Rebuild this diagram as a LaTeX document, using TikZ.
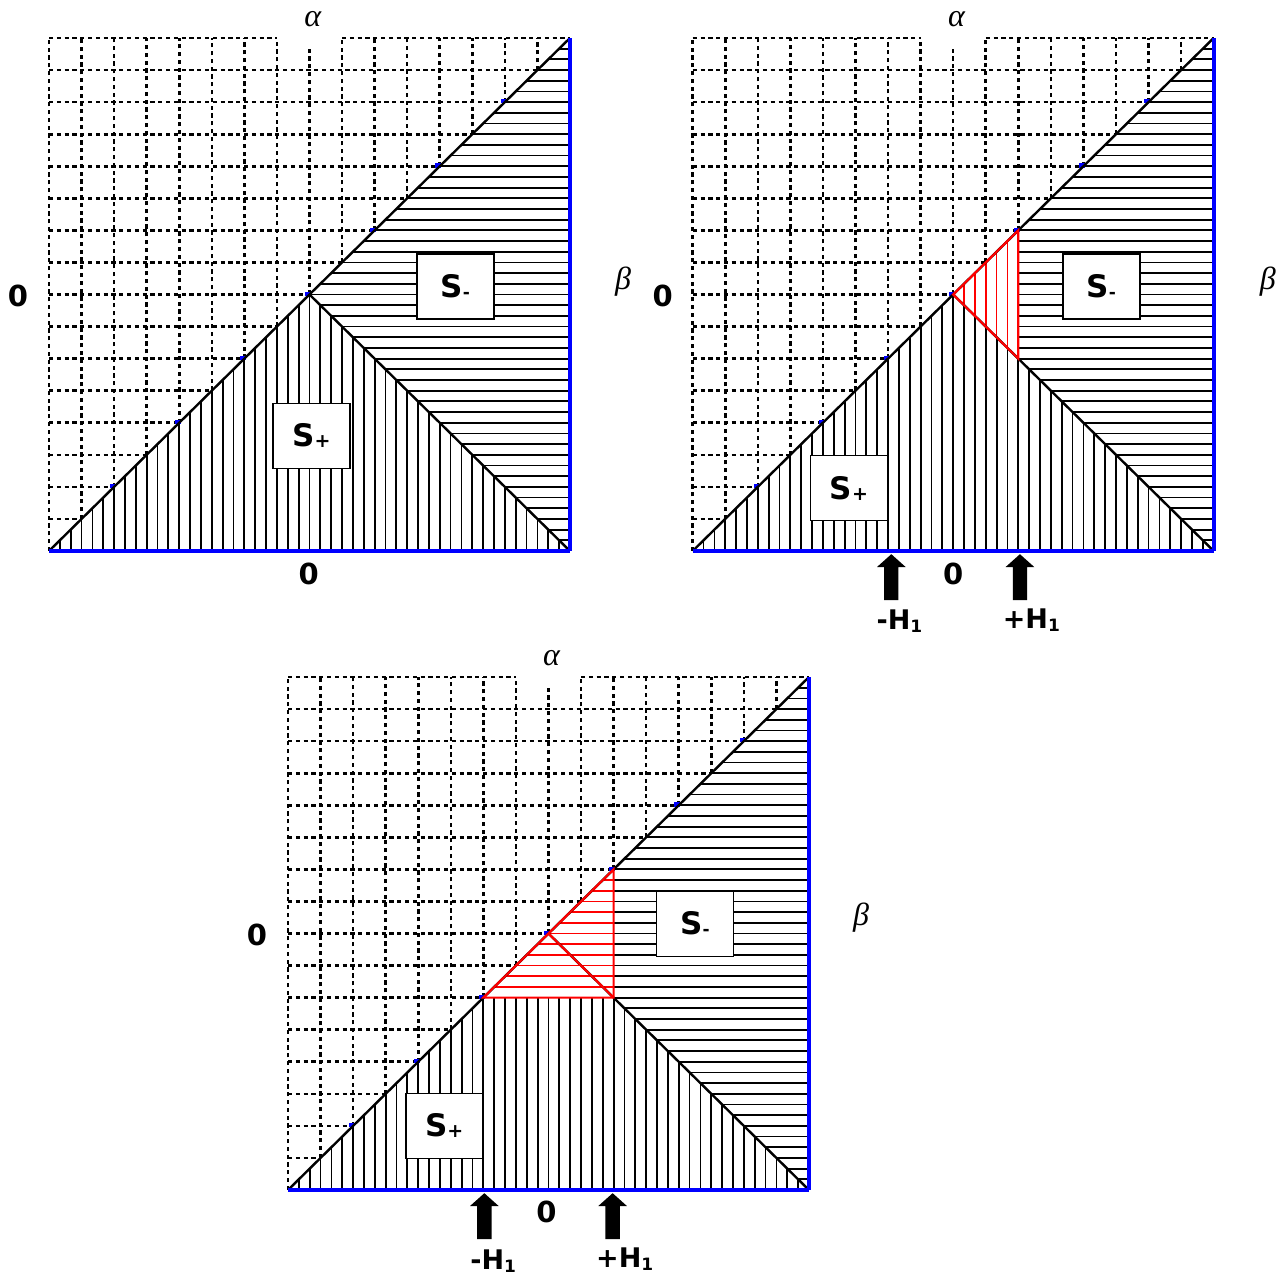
\documentclass[tikz,border=0pt]{standalone}
\usepackage{fontspec}
\setmainfont{DejaVu Sans}
\newfontfamily\serifgreek{Liberation Serif}
\definecolor{pblue}{RGB}{0,0,255}
\definecolor{pred}{RGB}{255,0,0}
\tikzset{
 gridline/.style={line width=2.6pt, dash pattern=on 4.2pt off 3.6pt},
 hatchline/.style={line width=1.8pt, black},
 redhatch/.style={line width=1.6pt, pred},
 axisline/.style={line width=4.2pt, pblue},
 diagline/.style={line width=2.4pt, black},
 redline/.style={line width=2.2pt, pred},
 sbox/.style={draw, fill=white, line width=1.6pt, minimum width=77pt, minimum height=65pt, font=\fontsize{31}{31}\selectfont\bfseries, inner sep=0pt},
 lbl/.style={font=\fontsize{29}{29}\selectfont\bfseries, inner sep=0pt},
 greek/.style={font=\fontsize{32}{32}\selectfont\serifgreek\itshape, inner sep=0pt},
 hlbl/.style={font=\fontsize{27}{27}\selectfont\bfseries, inner sep=0pt},
 blockarrow/.style={fill=black},
 panelscale/.style={x=32.56pt, y=32.06pt},
}
\newcommand\vhatch[1]{\foreach \i in {1,...,47} \draw[#1] ({\i/3},0) -- ({\i/3},16);}
\newcommand\hhatch[1]{\foreach \i in {1,...,47} \draw[#1] (0,{\i/3}) -- (16,{\i/3});}
\newcommand\mygrid{%
 \foreach \j in {1,...,15} \draw[gridline] (0,\j) -- (\j,\j);
 \foreach \i in {1,...,7,9,10,...,15} \draw[gridline] (\i,\i) -- (\i,16);
 \draw[gridline] (8,8) -- (8,15.75);
 \draw[gridline] (0,0) -- (0,16);
 \draw[gridline] (0,16) -- (7,16);
 \draw[gridline] (9,16) -- (16,16);
 \foreach \k in {1,...,7} \fill[pblue] ({2*\k-0.13},{2*\k-0.04}) rectangle ({2*\k+0.04},{2*\k+0.09});
}
\newcommand\myframe{%
 \draw[diagline] (0,0) -- (16,16);
 \draw[diagline] (8,8) -- (16,0);
}
\newcommand\myaxes{%
 \draw[axisline] (0,0) -- (16,0);
 \draw[axisline] (16,0) -- (16,16);
}
\newcommand\uparrowat[1]{%
 \fill[blockarrow] (#1,-0.1) -- ({#1+0.44},-0.5) -- ({#1+0.22},-0.5) -- ({#1+0.22},-1.53) -- ({#1-0.22},-1.53) -- ({#1-0.22},-0.5) -- ({#1-0.44},-0.5) -- cycle;
}
\newcommand\Sminus{S\raisebox{-1pt}{\fontsize{17}{17}\selectfont -}}
\newcommand\Splus{S\raisebox{-1pt}{\fontsize{19}{19}\selectfont +}}
\newcommand\Hsub{H\raisebox{-3pt}{\fontsize{17}{17}\selectfont 1}}
\begin{document}
\begin{tikzpicture}
\useasboundingbox (0,0) rectangle (1285pt,1277pt);
\fill[white] (0,0) rectangle (1285pt,1277pt);

% ---------------- Panel 1 ----------------
\begin{scope}[shift={(49pt,726pt)}, panelscale]
 \begin{scope}
  \clip (0,0) -- (8,8) -- (16,0) -- cycle;
  \vhatch{hatchline}
 \end{scope}
 \begin{scope}
  \clip (8,8) -- (16,16) -- (16,0) -- cycle;
  \hhatch{hatchline}
 \end{scope}
 \mygrid
 \myframe
 \myaxes
 \node[sbox] (a-sm) at (12.48,8.25) {\Sminus};
 \node[sbox] (a-sp) at (8.06,3.59) {\Splus};
 \node[lbl] (a-zl) at (-0.95,7.95) {0};
 \node[lbl] (a-zb) at (7.98,-0.72) {0};
 \node[greek] (a-al) at (8.1,16.6) {α};
 \node[greek] (a-be) at (17.63,8.4) {β};
\end{scope}

% ---------------- Panel 2 ----------------
\begin{scope}[shift={(692.7pt,726pt)}, panelscale]
 \begin{scope}
  \clip (0,0) -- (8,8) -- (16,0) -- cycle;
  \vhatch{hatchline}
 \end{scope}
 \begin{scope}
  \clip (10,10) -- (16,16) -- (16,0) -- (10,6) -- cycle;
  \hhatch{hatchline}
 \end{scope}
 \begin{scope}
  \clip (8,8) -- (10,10) -- (10,6) -- cycle;
  \vhatch{redhatch}
 \end{scope}
 \mygrid
 \myframe
 \draw[redline] (8,8) -- (10,10) -- (10,6) -- cycle;
 \myaxes
 \node[sbox] (b-sm) at (12.55,8.25) {\Sminus};
 \node[sbox] (b-sp) at (4.8,1.96) {\Splus};
 \node[lbl] (b-zl) at (-0.92,7.95) {0};
 \node[lbl] (b-zb) at (8.0,-0.72) {0};
 \node[greek] (b-al) at (8.1,16.6) {α};
 \node[greek] (b-be) at (17.66,8.4) {β};
 \uparrowat{6.1}
 \uparrowat{10.05}
 \node[hlbl] (b-hm) at (6.35,-2.2) {-\Hsub};
 \node[hlbl] (b-hp) at (10.4,-2.15) {+\Hsub};
\end{scope}

% ---------------- Panel 3 ----------------
\begin{scope}[shift={(288pt,87pt)}, panelscale]
 \begin{scope}
  \clip (0,0) -- (6,6) -- (10,6) -- (16,0) -- cycle;
  \vhatch{hatchline}
 \end{scope}
 \begin{scope}
  \clip (10,10) -- (16,16) -- (16,0) -- (10,6) -- cycle;
  \hhatch{hatchline}
 \end{scope}
 \begin{scope}
  \clip (6,6) -- (10,10) -- (10,6) -- cycle;
  \hhatch{redhatch}
 \end{scope}
 \mygrid
 \myframe
 \draw[redline] (6,6) -- (10,10) -- (10,6) -- cycle;
 \draw[redline] (8,8) -- (10,6);
 \myaxes
 \node[sbox] (c-sm) at (12.5,8.3) {\Sminus};
 \node[sbox] (c-sp) at (4.8,2.0) {\Splus};
 \node[lbl] (c-zl) at (-0.95,7.95) {0};
 \node[lbl] (c-zb) at (7.94,-0.68) {0};
 \node[greek] (c-al) at (8.09,16.6) {α};
 \node[greek] (c-be) at (17.6,8.5) {β};
 \uparrowat{6.03}
 \uparrowat{9.97}
 \node[hlbl] (c-hm) at (6.3,-2.22) {-\Hsub};
 \node[hlbl] (c-hp) at (10.34,-2.15) {+\Hsub};
\end{scope}
\end{tikzpicture}
\end{document}
